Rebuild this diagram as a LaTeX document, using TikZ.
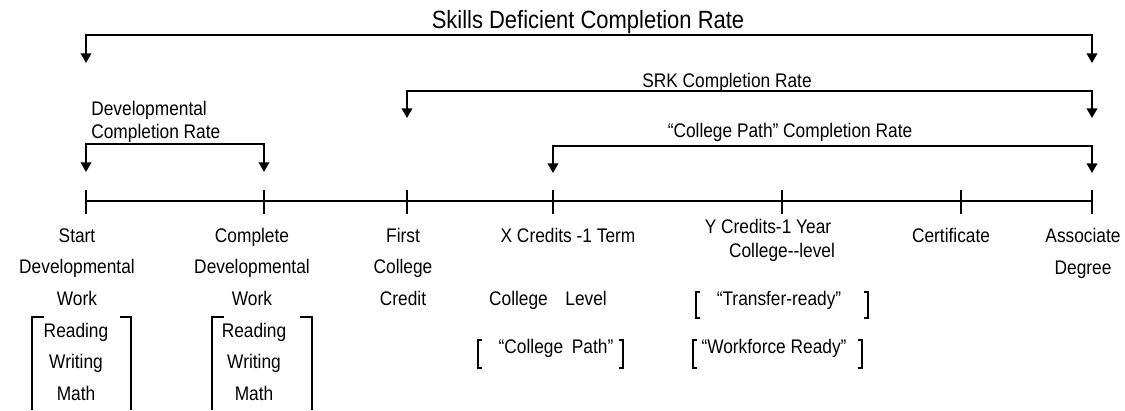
\documentclass[tikz,border=0pt]{standalone}
\usepackage{fontspec}
\setmainfont{Liberation Sans}[FakeStretch=0.88]
\usetikzlibrary{arrows.meta}

\begin{document}
\begin{tikzpicture}[x=0.02cm,y=-0.02cm,
    rate/.style={black,line width=1.1pt,{Triangle[width=6pt,length=5.5pt]}-{Triangle[width=6pt,length=5.5pt]}},
    lbl/.style={font=\fontsize{11.2}{17.9}\selectfont,align=center,anchor=base},
    subj/.style={black,line width=1.6pt},
    brk/.style={black,line width=0.8pt}]
    \tikzstyle{every node}+=[inner sep=0pt]
    \useasboundingbox (0,0) rectangle (1125,410);
    % timeline and its ticks
    \coordinate (p1) at (86,201);
    \coordinate (p2) at (264,201);
    \coordinate (p3) at (407,201);
    \coordinate (p4) at (553,201);
    \coordinate (p5) at (782,201);
    \coordinate (p6) at (961,201);
    \coordinate (p7) at (1092,201);
    \draw [black,line width=1.1pt] (p1) -- (p7);
    \foreach \p in {p1,p2,p3,p4,p5,p6,p7}
        \draw [black,line width=1.3pt] (\p) ++(0,-11) -- ++(0,24);
    % completion rates
    \coordinate (sdA) at (86,63);
    \coordinate (sdB) at (1092,63);
    \draw [rate] (sdA) -- ++(0,-28) -| (sdB);
    \node (sdlbl) [font=\fontsize{14.2}{17}\selectfont,anchor=base] at (588,28) {Skills Deficient Completion Rate};
    \coordinate (srkA) at (407,118);
    \coordinate (srkB) at (1092,118);
    \draw [rate] (srkA) -- ++(0,-27) -| (srkB);
    \node (srklbl) [lbl] at (727,87) {SRK Completion Rate};
    \coordinate (cpA) at (553,173);
    \coordinate (cpB) at (1092,173);
    \draw [rate] (cpA) -- ++(0,-27) -| (cpB);
    \node (cplbl) [lbl] at (790,137) {“College Path” Completion Rate};
    \coordinate (devA) at (86,172);
    \coordinate (devB) at (264,172);
    \draw [rate] (devA) -- ++(0,-28) -| (devB);
    \node (devlbl) [font=\fontsize{11.2}{13}\selectfont,align=left,anchor=base west] at (91,138) {Developmental\\Completion Rate};
    % milestones (base = last line)
    \node (start) [lbl] at (77,305) {Start\\Developmental\\Work};
    \node (startsub) [lbl] at (76,400) {Reading\\Writing\\Math};
    \node (compl) [lbl] at (252,305) {Complete\\Developmental\\Work};
    \node (complsub) [lbl] at (254,400) {Reading\\Writing\\Math};
    \node (first) [lbl] at (403,305) {First\\College\\Credit};
    \node (xcred) [lbl] at (568,242) {X Credits -1 Term};
    \node (xlev) [lbl] at (548,305) {College\hspace{10pt}Level};
    \node (xpath) [lbl] at (556,353) {“College\hspace{5pt}Path”};
    \node (ycred) [lbl] at (768,233) {Y Credits-1 Year};
    \node (ylev) [lbl] at (782,257) {College-{}-level};
    \node (ytrans) [lbl] at (779,305) {“Transfer-ready”};
    \node (ywork) [lbl] at (774,353) {“Workforce Ready”};
    \node (cert) [lbl] at (951,242) {Certificate};
    \node (assoc) [lbl] at (1083,274) {Associate\\Degree};
    % brackets
    \draw [subj] (44,317) -- (32,317) -- (32,410);
    \draw [subj] (120,317) -- (131,317) -- (131,410);
    \draw [subj] (224,317) -- (212,317) -- (212,410);
    \draw [subj] (300,317) -- (312,317) -- (312,410);
    \draw [brk] (482,340) -- (478,340) -- (478,368) -- (482,368);
    \draw [brk] (619,340) -- (623,340) -- (623,368) -- (619,368);
    \draw [brk] (700,292) -- (696,292) -- (696,318) -- (700,318);
    \draw [brk] (864,292) -- (868,292) -- (868,318) -- (864,318);
    \draw [brk] (697,340) -- (693,340) -- (693,368) -- (697,368);
    \draw [brk] (858,340) -- (862,340) -- (862,368) -- (858,368);
\end{tikzpicture}
\end{document}
